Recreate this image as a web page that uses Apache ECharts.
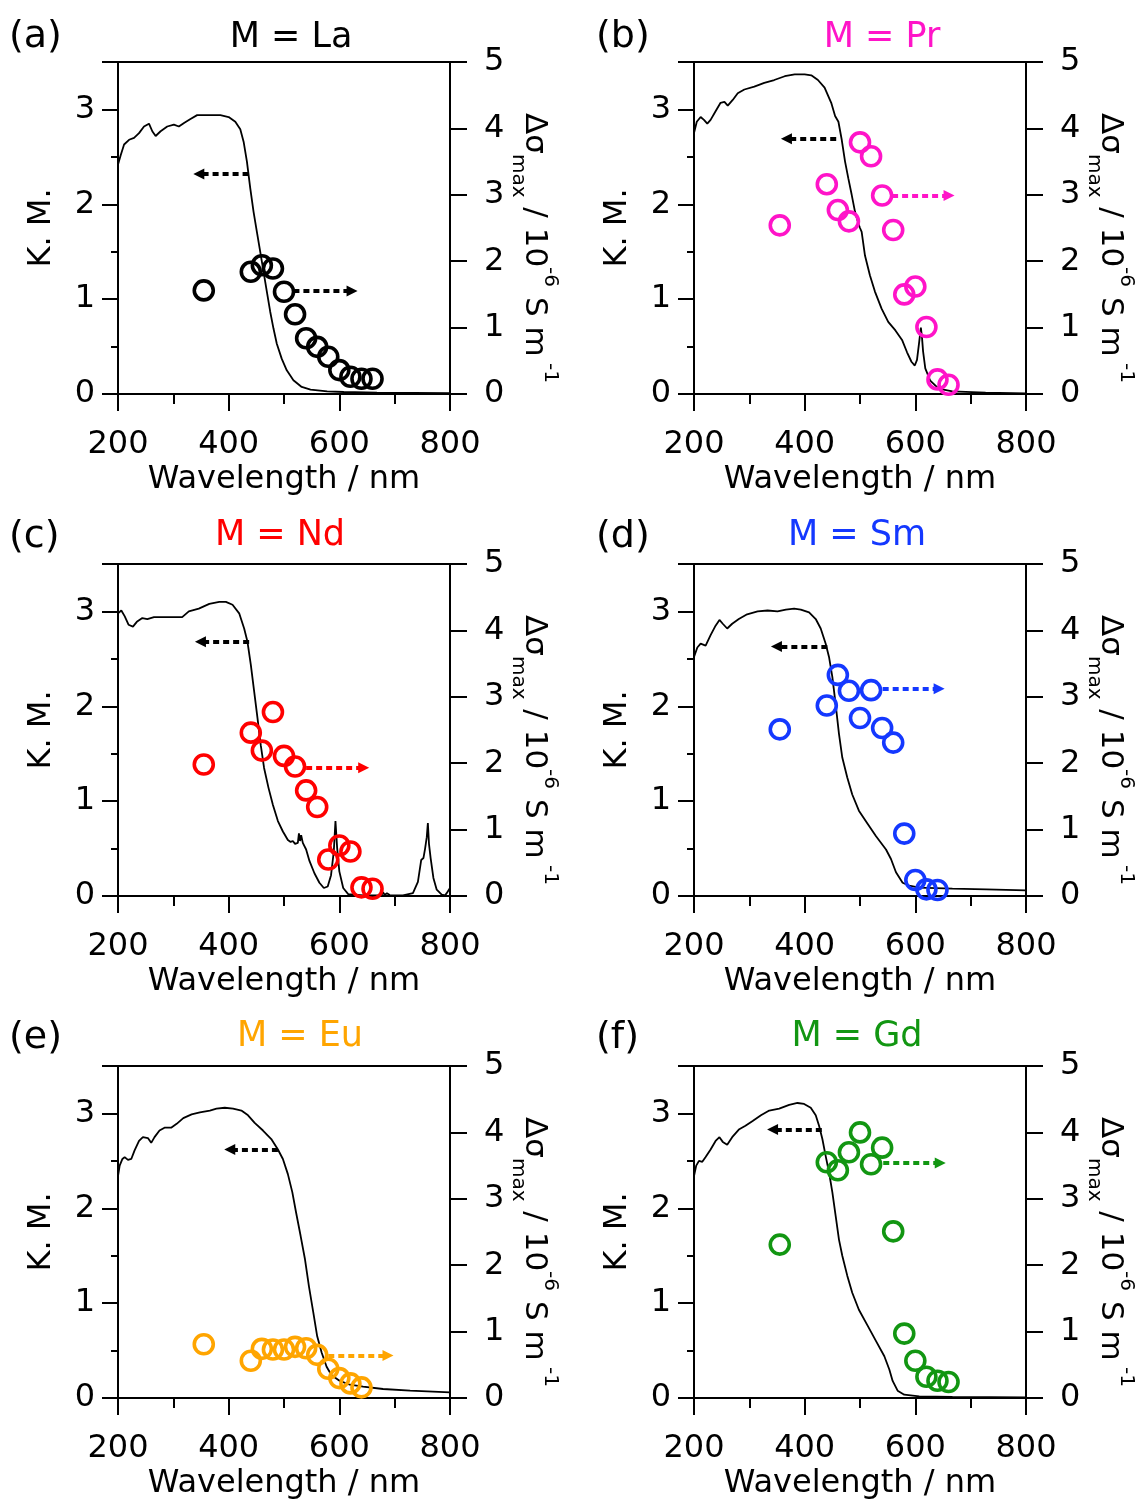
<!DOCTYPE html>
<html>
<head>
<meta charset="utf-8">
<script src="https://cdn.jsdelivr.net/npm/echarts@6/dist/echarts.min.js"></script>
<style>
html,body{margin:0;padding:0;background:#fff;}
#chart{width:1148px;height:1503px;}
</style>
</head>
<body>
<div id="chart"></div>
<script>
// ---------- data ----------
const wlLong = [355, 440, 460, 480, 500, 520, 540, 560, 580, 600, 620, 640, 660];
const wlShort = [355, 440, 460, 480, 500, 520, 540, 560, 580, 600, 620, 640];

const laSigma = [1.56, 1.84, 1.94, 1.89, 1.54, 1.20, 0.84, 0.71, 0.56, 0.36, 0.26, 0.23, 0.23];
const prSigma = [2.54, 3.16, 2.77, 2.60, 3.79, 3.58, 2.99, 2.47, 1.50, 1.62, 1.01, 0.22, 0.14];
const ndSigma = [1.98, 2.46, 2.19, 2.77, 2.11, 1.95, 1.59, 1.34, 0.55, 0.76, 0.67, 0.13, 0.11];
const smSigma = [2.51, 2.87, 3.33, 3.09, 2.68, 3.10, 2.53, 2.31, 0.94, 0.24, 0.10, 0.09];
const euSigma = [0.81, 0.56, 0.74, 0.73, 0.73, 0.77, 0.75, 0.65, 0.44, 0.30, 0.22, 0.16];
const gdSigma = [2.31, 3.55, 3.43, 3.70, 4.00, 3.52, 3.77, 2.51, 0.97, 0.56, 0.32, 0.26, 0.24];

const laKM = [[200,2.42],[205,2.52],[211,2.63],[220,2.68],[229,2.70],[238,2.75],[247,2.82],[256,2.85],[262,2.77],[268,2.72],[277,2.77],[289,2.82],[301,2.84],[310,2.82],[320,2.86],[331,2.90],[343,2.94],[361,2.94],[385,2.94],[400,2.92],[412,2.87],[421,2.79],[427,2.66],[433,2.45],[439,2.17],[445,1.92],[451,1.71],[457,1.50],[463,1.29],[469,1.08],[475,0.87],[481,0.69],[487,0.53],[496,0.37],[505,0.25],[517,0.145],[532,0.074],[548,0.046],[578,0.028],[608,0.021],[668,0.014],[800,0.01]];
const prKM = [[200,2.75],[205,2.87],[212,2.92],[218,2.89],[224,2.85],[230,2.89],[239,2.98],[248,3.07],[255,3.08],[261,3.04],[270,3.10],[279,3.17],[291,3.21],[309,3.24],[327,3.28],[345,3.31],[364,3.35],[382,3.37],[400,3.37],[412,3.36],[424,3.31],[436,3.23],[448,3.07],[455,2.93],[461,2.87],[467,2.68],[473,2.45],[479,2.27],[485,2.10],[491,1.92],[497,1.80],[500,1.75],[503,1.71],[509,1.46],[518,1.25],[527,1.08],[539,0.90],[551,0.76],[564,0.67],[576,0.57],[585,0.44],[593,0.34],[599,0.30],[603,0.36],[607,0.55],[610,0.70],[612,0.60],[614,0.45],[618,0.27],[627,0.14],[642,0.056],[667,0.028],[727,0.014],[800,0.007]];
const ndKM = [[200,2.98],[206,3.01],[212,2.95],[219,2.86],[227,2.84],[234,2.89],[244,2.93],[253,2.92],[265,2.94],[280,2.94],[298,2.94],[316,2.94],[328,3.00],[346,3.03],[365,3.08],[383,3.10],[395,3.10],[407,3.07],[419,2.98],[428,2.82],[434,2.68],[440,2.44],[446,2.16],[452,1.88],[458,1.59],[464,1.35],[472,1.14],[480,0.96],[489,0.79],[498,0.68],[507,0.59],[512,0.57],[516,0.58],[520,0.55],[525,0.56],[527,0.66],[529,0.58],[531,0.64],[534,0.56],[540,0.49],[546,0.37],[555,0.24],[564,0.14],[572,0.084],[579,0.10],[585,0.22],[590,0.47],[593,0.79],[596,0.51],[600,0.26],[607,0.084],[616,0.02],[643,0.007],[676,0.007],[679,0.04],[682,0.01],[686,0.03],[691,0.01],[697,0.007],[715,0.007],[733,0.03],[742,0.15],[748,0.38],[752,0.40],[755,0.50],[758,0.62],[760,0.77],[762,0.55],[765,0.40],[770,0.19],[776,0.067],[785,0.014],[791,0.006],[794,0.03],[800,0.084]];
const smKM = [[200,2.52],[206,2.62],[212,2.66],[221,2.64],[230,2.75],[239,2.85],[246,2.91],[252,2.87],[260,2.82],[269,2.87],[281,2.92],[296,2.97],[315,3.00],[333,3.01],[351,3.00],[366,3.02],[381,3.03],[393,3.02],[408,2.99],[420,2.92],[429,2.82],[438,2.66],[444,2.52],[450,2.31],[456,2.02],[462,1.71],[468,1.46],[477,1.25],[486,1.07],[498,0.90],[514,0.76],[529,0.63],[547,0.49],[556,0.39],[565,0.25],[577,0.14],[589,0.11],[607,0.088],[667,0.077],[728,0.07],[800,0.06]];
const euKM = [[200,2.34],[203,2.45],[208,2.52],[212,2.54],[218,2.51],[224,2.52],[230,2.61],[238,2.71],[245,2.75],[254,2.74],[260,2.69],[266,2.75],[275,2.82],[284,2.85],[296,2.85],[306,2.89],[318,2.95],[333,2.99],[348,3.01],[366,3.03],[378,3.05],[393,3.06],[408,3.05],[423,3.03],[435,2.98],[447,2.90],[462,2.82],[477,2.73],[489,2.62],[498,2.52],[507,2.36],[515,2.17],[522,1.95],[530,1.71],[538,1.46],[545,1.18],[553,0.90],[560,0.65],[568,0.48],[577,0.33],[586,0.24],[601,0.18],[619,0.14],[643,0.12],[679,0.095],[728,0.077],[800,0.06]];
const gdKM = [[200,2.34],[204,2.45],[209,2.50],[215,2.49],[221,2.54],[230,2.62],[239,2.71],[246,2.75],[252,2.70],[260,2.67],[269,2.75],[281,2.83],[293,2.87],[306,2.92],[321,2.98],[336,3.03],[354,3.05],[372,3.09],[387,3.11],[399,3.10],[411,3.06],[420,2.98],[426,2.87],[432,2.73],[438,2.55],[444,2.38],[450,2.17],[456,1.92],[462,1.67],[468,1.50],[477,1.29],[486,1.11],[498,0.93],[514,0.76],[529,0.60],[544,0.44],[553,0.30],[559,0.18],[568,0.077],[580,0.035],[607,0.018],[667,0.011],[800,0.007]];

// annotation arrows: [from wavelength, to wavelength, value]
const arrowKM = [[436,346,2.32],[457,367,2.69],[437,349,2.68],[441,349,2.63],[489,402,2.62],[431,342,2.83]];
const arrowSigma = [[517,623,1.55],[558,661,2.99],[540,644,1.93],[541,643,3.12],[580,688,0.64],[542,645,3.54]];

const panelLetters = ['(a)','(b)','(c)','(d)','(e)','(f)'];
const panelTitles = ['M = La','M = Pr','M = Nd','M = Sm','M = Eu','M = Gd'];
const panelColors = ['#000000','#ff14c8','#ff0000','#1438ff','#ffa500','#129612'];
const xTicks = [200, 400, 600, 800];

// ---------- layout ----------
const F = 'DejaVu Sans';
const colLeft = [118, 694];
const rowTop = [62, 564, 1066];
const W = 332, H = 332;
const titleX = [291, 882, 280, 857, 300, 857];
const titleY = [38, 536, 1037];
const letterX = [9, 596];
const letterY = [37, 537, 1038];

const panels = [
  {km: laKM, wl: wlLong, sigma: laSigma},
  {km: prKM, wl: wlLong, sigma: prSigma},
  {km: ndKM, wl: wlLong, sigma: ndSigma},
  {km: smKM, wl: wlShort, sigma: smSigma},
  {km: euKM, wl: wlShort, sigma: euSigma},
  {km: gdKM, wl: wlLong, sigma: gdSigma}
];

const black = '#000';
const grids = [], xAxes = [], yAxes = [], series = [], graphics = [];

panels.forEach((p, i) => {
  const col = i % 2, row = Math.floor(i / 2);
  const color = panelColors[i];
  grids.push({
    left: colLeft[col], top: rowTop[row], width: W, height: H,
    containLabel: false, outerBoundsMode: 'none',
    show: true, borderColor: black, borderWidth: 2, backgroundColor: 'transparent'
  });
  xAxes.push({
    gridIndex: i, type: 'value', min: xTicks[0], max: xTicks[xTicks.length - 1], interval: 200,
    name: 'Wavelength / nm', nameLocation: 'middle', nameGap: 70,
    nameTextStyle: {fontFamily: F, fontSize: 32, color: black},
    axisLine: {onZero: false, lineStyle: {color: black, width: 2}},
    axisTick: {show: true, length: 17, lineStyle: {color: black, width: 2}},
    minorTick: {show: true, splitNumber: 2, length: 10, lineStyle: {color: black, width: 2}},
    axisLabel: {fontFamily: F, fontSize: 32, color: black, margin: 35},
    splitLine: {show: false}, minorSplitLine: {show: false}
  });
  // left K.M. axis (major ticks + labels)
  yAxes.push({
    gridIndex: i, type: 'value', position: 'left', min: 0, max: 3.5, interval: 1,
    name: 'K. M.', nameLocation: 'middle', nameGap: 60,
    nameTextStyle: {fontFamily: F, fontSize: 32, color: black},
    axisLine: {onZero: false, lineStyle: {color: black, width: 2}},
    axisTick: {show: true, length: 16, lineStyle: {color: black, width: 2}},
    axisLabel: {fontFamily: F, fontSize: 32, color: black, margin: 23,
      formatter: v => (Number.isInteger(v) ? String(v) : '')},
    splitLine: {show: false}
  });
  // left K.M. axis (half-step short ticks)
  yAxes.push({
    gridIndex: i, type: 'value', position: 'left', min: 0, max: 3.5, interval: 0.5,
    axisLine: {show: false},
    axisTick: {show: true, length: 7, lineStyle: {color: black, width: 2}},
    axisLabel: {show: false}, splitLine: {show: false}
  });
  // right sigma axis
  yAxes.push({
    gridIndex: i, type: 'value', position: 'right', min: 0, max: 5, interval: 1,
    name: '{m|Δσ}{s|max}{m| / 10}{p|-6}{m| S m}{p| -1}',
    nameLocation: 'middle', nameRotate: -90, nameGap: 58,
    nameTextStyle: {
      fontFamily: F, fontSize: 31, color: black, padding: [0, 0, 0, 40],
      rich: {
        m: {fontFamily: F, fontSize: 31, color: black, lineHeight: 52},
        s: {fontFamily: F, fontSize: 20, color: black, lineHeight: 20, verticalAlign: 'bottom'},
        p: {fontFamily: F, fontSize: 20, color: black, lineHeight: 20, verticalAlign: 'top'}
      }
    },
    axisLine: {onZero: false, lineStyle: {color: black, width: 2}},
    axisTick: {show: true, length: 17, lineStyle: {color: black, width: 2}},
    axisLabel: {fontFamily: F, fontSize: 32, color: black, margin: 34},
    splitLine: {show: false}
  });

  const aK = arrowKM[i], aS = arrowSigma[i];
  series.push({
    type: 'line', xAxisIndex: i, yAxisIndex: 3 * i,
    data: p.km, showSymbol: false, symbol: 'none', smooth: false,
    lineStyle: {color: black, width: 1.8}, z: 2, silent: true,
    markLine: {
      silent: true, symbol: ['none', 'triangle'], symbolSize: [11, 11],
      label: {show: false}, emphasis: {disabled: true},
      lineStyle: {color: black, type: [6, 4], width: 4, cap: 'butt'},
      data: [[{coord: [aK[0], aK[2]]}, {coord: [aK[1], aK[2]]}]]
    }
  });
  series.push({
    type: 'scatter', xAxisIndex: i, yAxisIndex: 3 * i + 2,
    data: p.wl.map((w, k) => [w, p.sigma[k]]),
    symbol: 'circle', symbolSize: 19, z: 3, silent: true,
    itemStyle: {color: 'transparent', borderColor: color, borderWidth: 3.6, opacity: 1},
    markLine: {
      silent: true, symbol: ['none', 'triangle'], symbolSize: [11, 11],
      label: {show: false}, emphasis: {disabled: true},
      lineStyle: {color: color, type: [6, 4], width: 4, cap: 'butt'},
      data: [[{coord: [aS[0], aS[2]]}, {coord: [aS[1], aS[2]]}]]
    }
  });

  graphics.push({
    type: 'text', x: letterX[col], y: letterY[row], silent: true,
    style: {text: panelLetters[i], font: '38px "DejaVu Sans"', fill: black,
      align: 'left', verticalAlign: 'middle', textAlign: 'left', textVerticalAlign: 'middle'}
  });
  graphics.push({
    type: 'text', x: titleX[i], y: titleY[row], silent: true,
    style: {text: panelTitles[i], font: '35px "DejaVu Sans"', fill: color,
      align: 'center', verticalAlign: 'middle', textAlign: 'center', textVerticalAlign: 'middle'}
  });
});

const chart = echarts.init(document.getElementById('chart'), null, {renderer: 'canvas', width: 1148, height: 1503});
chart.setOption({
  animation: false,
  backgroundColor: '#fff',
  grid: grids, xAxis: xAxes, yAxis: yAxes, series: series,
  graphic: graphics
});
</script>
</body>
</html>
